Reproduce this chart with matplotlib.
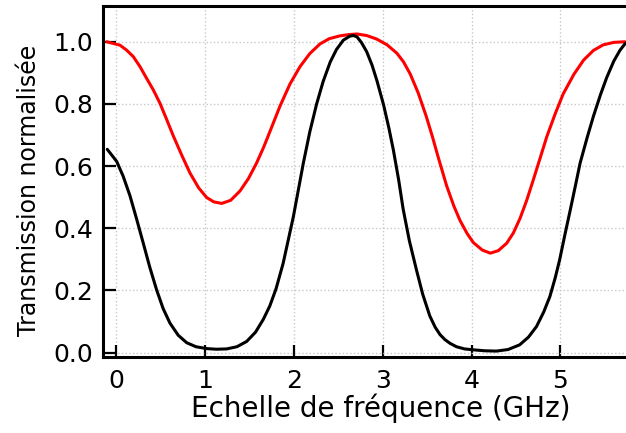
import matplotlib
matplotlib.use("Agg")
import matplotlib.pyplot as plt

# Red curve
red_x = [-0.105, 0.045, 0.12, 0.195, 0.27, 0.345, 0.42, 0.495, 0.57, 0.645, 0.74, 0.832, 0.93, 1.02, 1.10, 1.19,
         1.29, 1.395, 1.49, 1.58, 1.66, 1.73, 1.845, 1.957, 2.07, 2.18, 2.295, 2.40, 2.52, 2.62, 2.71, 2.82, 2.93,
         3.05, 3.16, 3.235, 3.31, 3.40, 3.49, 3.56, 3.62, 3.72, 3.80, 3.87, 3.95, 4.02, 4.12, 4.21, 4.30, 4.395,
         4.47, 4.545, 4.62, 4.69, 4.77, 4.845, 4.94, 5.03, 5.15, 5.26, 5.37, 5.48, 5.60, 5.725]
red_y = [1.000, 0.989, 0.973, 0.952, 0.920, 0.882, 0.845, 0.802, 0.750, 0.697, 0.635, 0.578, 0.530, 0.499, 0.485,
         0.480, 0.490, 0.520, 0.560, 0.609, 0.660, 0.710, 0.793, 0.864, 0.920, 0.962, 0.993, 1.010, 1.019, 1.023,
         1.025, 1.020, 1.009, 0.990, 0.963, 0.935, 0.896, 0.835, 0.760, 0.694, 0.633, 0.536, 0.472, 0.425, 0.383,
         0.354, 0.330, 0.320, 0.328, 0.352, 0.385, 0.432, 0.490, 0.552, 0.625, 0.694, 0.768, 0.832, 0.895, 0.941,
         0.972, 0.990, 0.998, 1.000]

# Black curve
blk_x = [-0.098, 0.008, 0.08, 0.157, 0.23, 0.307, 0.38, 0.457, 0.53, 0.607, 0.70, 0.795, 0.90, 1.02, 1.13, 1.245,
         1.36, 1.47, 1.57, 1.657, 1.73, 1.80, 1.88, 1.995, 2.107, 2.18, 2.257, 2.33, 2.41, 2.48, 2.557, 2.63, 2.67,
         2.71, 2.76, 2.82, 2.88, 2.935, 3.01, 3.07, 3.12, 3.18, 3.23, 3.30, 3.38, 3.45, 3.53, 3.59, 3.645, 3.70,
         3.757, 3.83, 3.92, 4.02, 4.15, 4.28, 4.41, 4.54, 4.64, 4.73, 4.81, 4.88, 4.94, 4.99, 5.05, 5.11, 5.17,
         5.22, 5.30, 5.37, 5.45, 5.52, 5.60, 5.67, 5.73]
blk_y = [0.654, 0.615, 0.568, 0.505, 0.432, 0.352, 0.275, 0.202, 0.142, 0.095, 0.056, 0.032, 0.019, 0.013, 0.011,
         0.012, 0.019, 0.036, 0.066, 0.107, 0.150, 0.205, 0.287, 0.437, 0.609, 0.710, 0.800, 0.872, 0.935, 0.975,
         1.005, 1.018, 1.020, 1.016, 0.998, 0.968, 0.925, 0.875, 0.797, 0.722, 0.652, 0.555, 0.462, 0.360, 0.266,
         0.188, 0.118, 0.082, 0.058, 0.042, 0.030, 0.019, 0.012, 0.009, 0.006, 0.005, 0.010, 0.025, 0.050, 0.084,
         0.130, 0.180, 0.240, 0.298, 0.380, 0.459, 0.540, 0.609, 0.692, 0.760, 0.830, 0.885, 0.938, 0.973, 0.995]

x_ticks = [0, 1, 2, 3, 4, 5]
y_ticks = [0.0, 0.2, 0.4, 0.6, 0.8, 1.0]
x_label = "Echelle de fréquence (GHz)"
y_label = "Transmission normalisée"

plt.rcParams['font.family'] = ['DejaVu Sans']

fig = plt.figure(figsize=(6.26, 4.33), dpi=100)
# the axes runs past the right edge of the figure (cropped), as in the reference
ax = fig.add_axes([103/626, 1 - 357/433, (659 - 103)/626, (357 - 6)/433])

ax.plot(red_x, red_y, color='#ff0000', lw=2.2, solid_capstyle='round', solid_joinstyle='round', zorder=3)
ax.plot(blk_x, blk_y, color='black', lw=2.2, solid_capstyle='round', solid_joinstyle='round', zorder=3)

ax.set_xlim(-0.146, 6.108)
ax.set_ylim(-0.014, 1.115)
ax.set_xticks(x_ticks)
ax.set_yticks(y_ticks)
ax.set_yticklabels([f"{v:.1f}" for v in y_ticks])
ax.tick_params(direction='in', length=9, width=1.6, labelsize=18, pad=7)
ax.tick_params(axis='x', pad=9)
ax.grid(True, color='#c8c8c8', linestyle=':', linewidth=1.0)
for s in ['left', 'bottom', 'top']:
    ax.spines[s].set_linewidth(2.2)
ax.spines['right'].set_visible(False)

ax.set_xlabel(x_label, fontsize=20, labelpad=0)
ax.set_ylabel(y_label, fontsize=17)
ax.yaxis.set_label_coords(-0.112, 0.476)

fig.savefig("out.png", dpi=100)
